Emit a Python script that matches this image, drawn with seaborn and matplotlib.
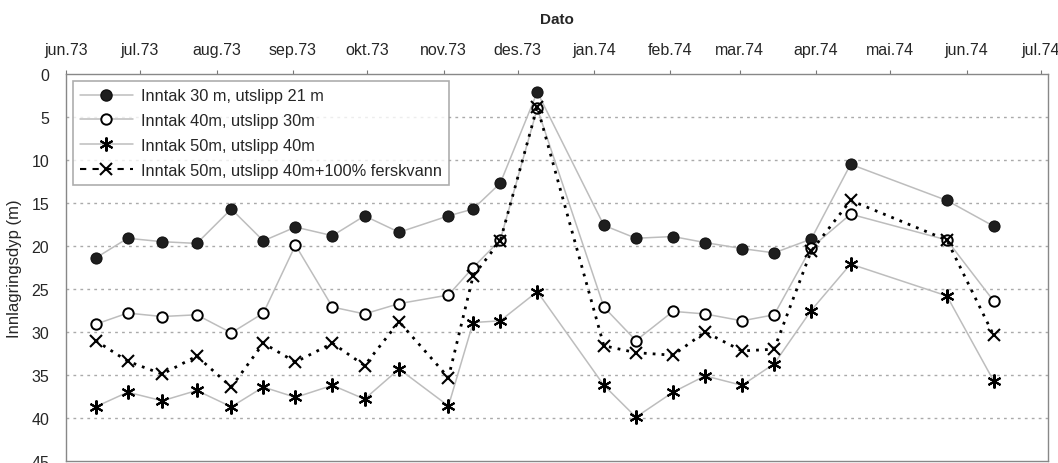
# Innlagringsdyp for ulike inntak/utslipp, jun.73 - jul.74
import pandas as pd
import matplotlib
matplotlib.use("Agg")
import matplotlib.pyplot as plt
from matplotlib.lines import Line2D
import seaborn as sns

# Data
dates = ["1973-06-13", "1973-06-26", "1973-07-10", "1973-07-24", "1973-08-07",
         "1973-08-20", "1973-09-02", "1973-09-17", "1973-09-30", "1973-10-14",
         "1973-11-03", "1973-11-13", "1973-11-24", "1973-12-09", "1974-01-05",
         "1974-01-18", "1974-02-02", "1974-02-15", "1974-03-02", "1974-03-15",
         "1974-03-30", "1974-04-15", "1974-05-24", "1974-06-12"]

inntak30 = [21.4, 19.1, 19.5, 19.7, 15.7, 19.4, 17.8, 18.8, 16.5, 18.4, 16.5, 15.7,
            12.7, 2.1, 17.6, 19.1, 18.9, 19.6, 20.3, 20.8, 19.2, 10.5, 14.7, 17.7]
inntak40 = [29.1, 27.8, 28.2, 28.0, 30.1, 27.8, 19.9, 27.1, 27.9, 26.7, 25.7, 22.5,
            19.3, 4.0, 27.1, 31.0, 27.6, 27.9, 28.7, 28.0, 20.2, 16.3, 19.3, 26.4]
inntak50 = [38.7, 37.0, 38.0, 36.8, 38.7, 36.4, 37.6, 36.2, 37.8, 34.3, 38.6, 28.9,
            28.7, 25.3, 36.2, 39.9, 37.0, 35.1, 36.2, 33.7, 27.5, 22.1, 25.8, 35.7]
inntak50_fersk = [31.0, 33.4, 34.9, 32.8, 36.4, 31.3, 33.5, 31.3, 33.9, 28.8, 35.3, 23.5,
                  19.4, 3.8, 31.6, 32.4, 32.7, 30.0, 32.2, 32.0, 20.6, 14.7, 19.3, 30.4]

labels = ["Inntak 30 m, utslipp 21 m",
          "Inntak 40m, utslipp 30m",
          "Inntak 50m, utslipp 40m",
          "Inntak 50m, utslipp 40m+100% ferskvann"]

month_ticks = pd.date_range("1973-06-01", "1974-07-01", freq="MS")
month_labels = ["jun.73", "jul.73", "aug.73", "sep.73", "okt.73", "nov.73", "des.73",
                "jan.74", "feb.74", "mar.74", "apr.74", "mai.74", "jun.74", "jul.74"]

df = pd.DataFrame({"Dato": pd.to_datetime(dates),
                   labels[0]: inntak30, labels[1]: inntak40,
                   labels[2]: inntak50, labels[3]: inntak50_fersk})

sns.set_style("white")
plt.rcParams["font.family"] = ["Liberation Sans", "DejaVu Sans"]

fig = plt.figure(figsize=(10.58, 4.64), dpi=100)
ax = fig.add_axes([66 / 1058, 2 / 464, (1048 - 66) / 1058, (462 - 75) / 464])

grey = "#bdbdbd"
asterisk = (6, 2, 0)

# marker styles shared by plot and legend
st = [
    dict(color=grey, lw=1.1, marker="o", markersize=8, markerfacecolor="#1e1e1e",
         markeredgecolor="#111111"),
    dict(color=grey, lw=1.1, marker="o", markersize=7.5, markerfacecolor="white",
         markeredgecolor="black", markeredgewidth=1.4),
    dict(color=grey, lw=1.1, marker=asterisk, markersize=10, markeredgecolor="black",
         markeredgewidth=1.5),
    dict(color="black", lw=2.0, linestyle=(0, (1, 2.2)), marker="x", markersize=9,
         markeredgecolor="black", markeredgewidth=1.5),
]

for lab, kw in zip(labels, st):
    sns.lineplot(data=df, x="Dato", y=lab, ax=ax, **kw)

# axes
ax.set_ylim(45, 0)
ax.set_yticks(range(0, 50, 5))
ax.set_xlim(pd.Timestamp("1973-06-01"), pd.Timestamp("1974-07-04"))
ax.set_xticks(month_ticks)
ax.set_xticklabels(month_labels)
ax.xaxis.tick_top()
ax.xaxis.set_label_position("top")
ax.tick_params(axis="both", labelsize=11.5, length=3, width=0.8, color="#777777")
ax.tick_params(axis="x", pad=9)
ax.tick_params(axis="y", pad=9)
ax.set_xlabel("Dato", fontsize=11, fontweight="bold", labelpad=14)
ax.set_ylabel("Innlagringsdyp (m)", fontsize=12, labelpad=7)

for y in range(5, 45, 5):
    ax.axhline(y, color="#aaaaaa", lw=1.0, linestyle=(0, (2, 3)), zorder=0)
for s in ax.spines.values():
    s.set_color("#888888")
    s.set_linewidth(1.0)

# legend (last entry drawn dashed, as in the original)
handles = [Line2D([], [], **kw) for kw in st[:3]]
handles.append(Line2D([], [], color="black", lw=1.5, linestyle=(0, (3, 3)), marker="x",
                      markersize=9, markeredgecolor="black", markeredgewidth=1.5))
leg = ax.legend(handles, labels, loc="upper left", bbox_to_anchor=(0.007, 0.982),
                borderaxespad=0, fontsize=11.8, handlelength=3.2, labelspacing=0.6,
                frameon=True, fancybox=False, edgecolor="#999999",
                borderpad=0.45, handletextpad=0.5)
leg.get_frame().set_linewidth(1.2)

fig.savefig("out.png", dpi=100)
